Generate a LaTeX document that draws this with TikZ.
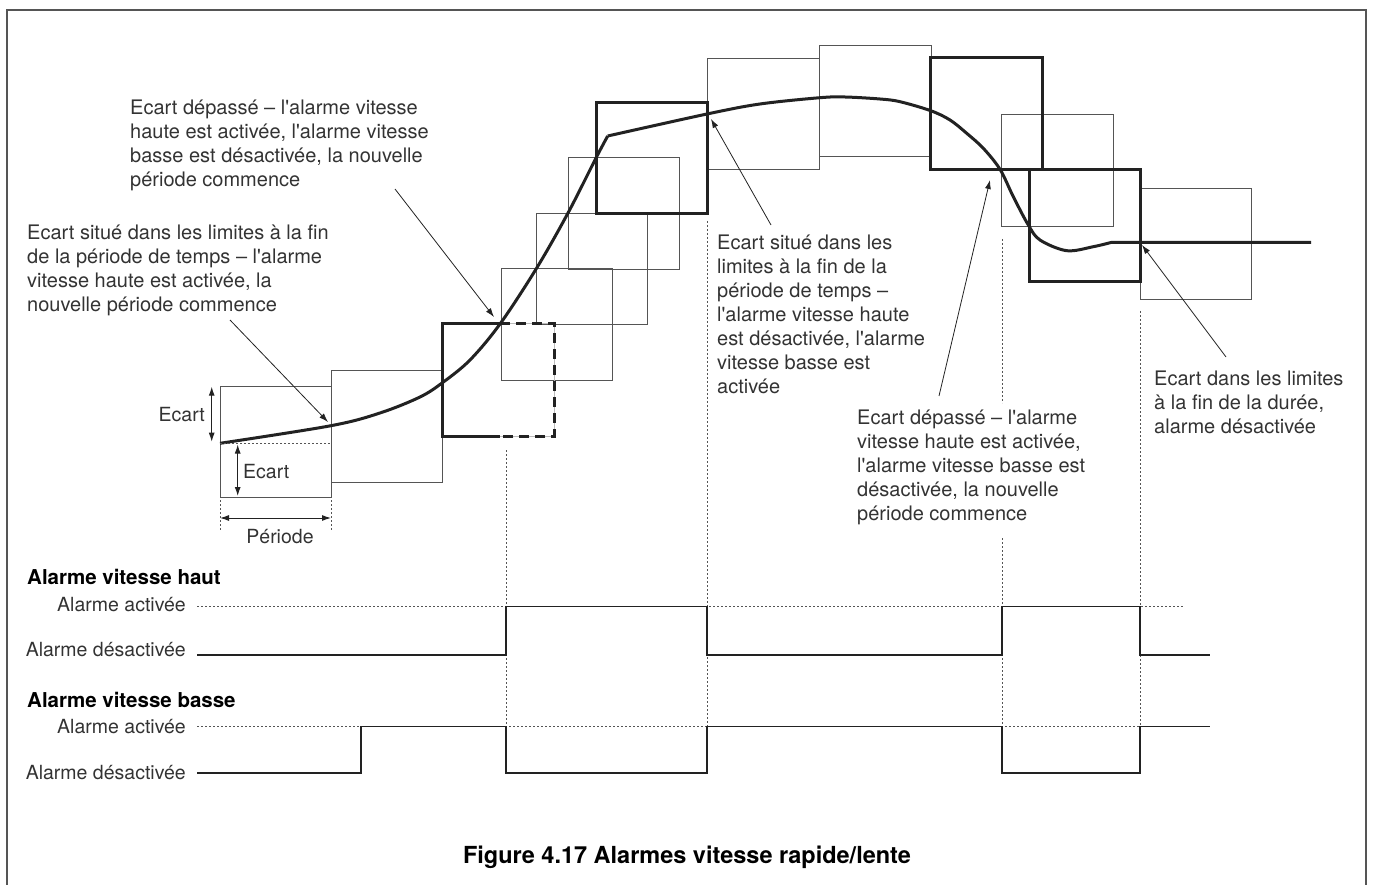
\documentclass[tikz,border=0pt]{standalone}
\usepackage{fontspec}
\setmainfont{TeX Gyre Heros}[Ligatures=TeXOff]
\usetikzlibrary{arrows.meta}
\definecolor{txt}{HTML}{333333}
\definecolor{thinc}{HTML}{555555}
\definecolor{thickc}{HTML}{222222}
\definecolor{lightc}{HTML}{BBBBBB}
\begin{document}
\begin{tikzpicture}[x=1pt,y=-1pt,
  thinbox/.style={draw=thinc, line width=1pt},
  thickbox/.style={draw=thickc, line width=3pt, line cap=rect},
  dashbox/.style={draw=thickc, line width=3pt, dash pattern=on 10pt off 6pt},
  curve/.style={draw=thickc, line width=3pt, line join=round},
  pointer/.style={draw=thickc, line width=0.8pt, -{Latex[length=9pt,width=6pt]}},
  dimarrow/.style={draw=thickc, line width=1pt, {Latex[length=9pt,width=6pt]}-{Latex[length=9pt,width=6pt]}},
  guide/.style={draw=thinc, line width=1pt, dash pattern=on 2pt off 2pt},
  signal/.style={draw=thickc, line width=1.2pt},
  note/.style={text=txt, font=\fontsize{20}{24}\selectfont, align=left, inner sep=0pt, anchor=north west},
  lbl/.style={text=txt, font=\fontsize{19.5}{24}\selectfont, inner sep=0pt},
  head/.style={text=black, font=\fontsize{20.5}{24}\selectfont\bfseries, inner sep=0pt, anchor=west},
]
\useasboundingbox (0,0) rectangle (1374,885);
% frame
\draw[draw=thinc, line width=1.5pt] (7,900) -- (7,10) -- (1366,10) -- (1366,900);

% thin boxes
\draw[thinbox] (220,386) rectangle (331,497);
\draw[thinbox] (331,371) rectangle (442.7,482);
\draw[thinbox] (501,269) rectangle (612,381);
\draw[thinbox] (536,214) rectangle (647,325);
\draw[thinbox] (568,158) rectangle (679,270);
\draw[thinbox] (707,59) rectangle (819,170);
\draw[thinbox] (819,46) rectangle (931,157);
\draw[thinbox] (1001.7,115) rectangle (1113,226.5);
\draw[thinbox] (1140,189) rectangle (1251,300);

% thick boxes
\draw[draw=lightc, line width=1pt] (500,324) -- (554.7,324) -- (554.7,436) -- (498,436);
\draw[thickbox] (498,436) -- (442.7,436) -- (442.7,324) -- (500,324);
\draw[dashbox] (500,324) -- (554.7,324) -- (554.7,436) -- (498,436);
\draw[thickbox] (596,103) rectangle (707,214);
\draw[thickbox] (930.7,58) rectangle (1042,169.5);
\draw[thickbox] (1029,170) rectangle (1140,282);

% curve
\draw[curve] plot[smooth, tension=0.55] coordinates {(220,443.3) (331,425.7) (380,413) (420,397) (442.7,382.5) (470,360) (500,324) (536.7,268) (568,213) (596,158) (607.7,136)};
\draw[curve] plot[smooth, tension=0.55] coordinates {(607.7,136) (707,114) (760,104) (820,97.7) (845,97) (880,99) (900,101.7) (930.7,110.7) (950,120) (966.7,133.3) (983.3,148.3) (1000,169.3) (1013.3,196.7) (1028.3,225) (1040,240) (1066.7,250.7) (1093.3,246.7) (1111.7,242.3)} -- (1311,242.3);

% ecart / periode dimensions
\coordinate (e1a) at (211.7,386.7); \coordinate (e1b) at (211.7,441.7);
\coordinate (e2a) at (237.7,444.5); \coordinate (e2b) at (237.7,496);
\coordinate (p1) at (220,518); \coordinate (p2) at (331,518);
\coordinate (c0) at (220,443.3); \coordinate (c1) at (331,443.3);
\coordinate (v1a) at (220,500); \coordinate (v1b) at (220,531);
\coordinate (v2a) at (331,500); \coordinate (v2b) at (331,531);
\draw[guide] (c0) -- (c1);
\draw[guide] (v1a) -- (v1b);
\draw[guide] (v2a) -- (v2b);
\draw[dimarrow] (e1a) -- (e1b);
\draw[dimarrow] (e2a) -- (e2b);
\draw[dimarrow] (p1) -- (p2);
\node[lbl, anchor=east] (ecart1) at (205,415) {Ecart};
\node[lbl, anchor=west] (ecart2) at (243,472) {Ecart};
\node[lbl] (periode) at (280,537) {Période};

% annotations
\node[note] (t1) at (130,100) {Ecart dépassé – l'alarme vitesse\\haute est activée, l'alarme vitesse\\basse est désactivée, la nouvelle\\période commence};
\node[note] (t2) at (27,225) {Ecart situé dans les limites à la fin\\de la période de temps – l'alarme\\vitesse haute est activée, la\\nouvelle période commence};
\node[note] (t3) at (717,235) {Ecart situé dans les\\limites à la fin de la\\période de temps –\\l'alarme vitesse haute\\est désactivée, l'alarme\\vitesse basse est\\activée};
\node[note] (t4) at (857,410) {Ecart dépassé – l'alarme\\vitesse haute est activée,\\l'alarme vitesse basse est\\désactivée, la nouvelle\\période commence};
\node[note] (t5) at (1154,371) {Ecart dans les limites\\à la fin de la durée,\\alarme désactivée};

% pointers
\coordinate (a1s) at (230,320); \coordinate (a1e) at (328,422);
\coordinate (a2s) at (395,189); \coordinate (a2e) at (494,317);
\coordinate (a3s) at (771,225); \coordinate (a3e) at (711,119);
\coordinate (a4s) at (939,396); \coordinate (a4e) at (990,180);
\coordinate (a5s) at (1226,357); \coordinate (a5e) at (1142,245);
\draw[pointer] (a1s) -- (a1e);
\draw[pointer] (a2s) -- (a2e);
\draw[pointer] (a3s) -- (a3e);
\draw[pointer] (a4s) -- (a4e);
\draw[pointer] (a5s) -- (a5e);

% vertical guides
\coordinate (g1a) at (506,450); \coordinate (g1b) at (506,727);
\coordinate (g2a) at (707,221); \coordinate (g2b) at (707,727);
\coordinate (g3a) at (1002,239); \coordinate (g3b) at (1002,403);
\coordinate (g3c) at (1002,538); \coordinate (g3d) at (1002,727);
\coordinate (g4a) at (1140,311); \coordinate (g4b) at (1140,727);
\draw[guide] (g1a) -- (g1b);
\draw[guide] (g2a) -- (g2b);
\draw[guide] (g3a) -- (g3b);
\draw[guide] (g3c) -- (g3d);
\draw[guide] (g4a) -- (g4b);

% timing diagrams
\node[head] (hh) at (27,577) {Alarme vitesse haut};
\node[lbl, anchor=east] (hon) at (186,605) {Alarme activée};
\node[lbl, anchor=east] (hoff) at (186,650) {Alarme désactivée};
\node[head] (bh) at (27,700) {Alarme vitesse basse};
\node[lbl, anchor=east] (bon) at (186,727) {Alarme activée};
\node[lbl, anchor=east] (boff) at (186,773) {Alarme désactivée};

\coordinate (hd0) at (197,606.5); \coordinate (hd1) at (1184,606.5);
\draw[guide] (hd0) -- (hd1);
\coordinate (bd0) at (197,726.5); \coordinate (bd1) at (1184,726.5);
\draw[guide] (bd0) -- (bd1);

\draw[signal] (197,655) -- (506,655) -- (506,606.5) -- (707,606.5) -- (707,655) -- (1002,655) -- (1002,606.5) -- (1140,606.5) -- (1140,655) -- (1210,655);
\draw[signal] (197,773) -- (361,773) -- (361,726.5) -- (506,726.5) -- (506,773) -- (707,773) -- (707,726.5) -- (1002,726.5) -- (1002,773) -- (1140,773) -- (1140,726.5) -- (1210,726.5);

% caption
\node[text=black, font=\fontsize{23.5}{28}\selectfont\bfseries, inner sep=0pt] (cap) at (687,857) {Figure 4.17 Alarmes vitesse rapide/lente};
\end{tikzpicture}
\end{document}
